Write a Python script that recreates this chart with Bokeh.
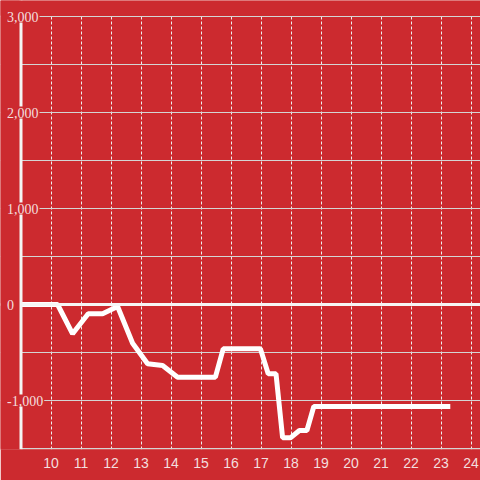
from bokeh.plotting import figure
from bokeh.models import Range1d, Span, LabelSet, ColumnDataSource, FixedTicker, BoxAnnotation
from bokeh.embed import file_html
from bokeh.resources import INLINE

# ---- data ----
hours = [9, 10.22, 10.72, 11.24, 11.72, 12.22, 12.72, 13.22, 13.72, 14.22,
         15.48, 15.74, 16.98, 17.24, 17.5, 17.72, 17.98, 18.28, 18.53, 18.76, 23.31]
values = [0, 0, -305, -97, -97, -21, -403, -618, -635, -757,
          -757, -462, -462, -722, -722, -1389, -1389, -1312, -1312, -1062, -1062]
x_ticks = list(range(10, 25))
y_grid_ticks = [-1500, -1000, -500, 0, 500, 1000, 1500, 2000, 2500, 3000]
y_label_values = [3000, 2000, 1000, 0, -1000]
y_label_texts = ["3,000", "2,000", "1,000", "0", "-1,000"]
x_axis_start = 9
y_max = 3000
y_min = -1500

BG = "#CC2A2F"
TXT = "#F3DEDE"
FONT = "Liberation Sans"

PX = 30.0          # pixels per hour
PY = 0.096         # pixels per unit
W, H = 480, 480
bottom = 31
frame_h = H - bottom
axis_px = 20.5     # screen x of the y axis
top_px = 16        # screen y of the top gridline
x0 = x_axis_start - axis_px / PX
y_top = y_max + top_px / PY
y_bot = y_top - frame_h / PY

p = figure(width=W, height=H, output_backend="svg", toolbar_location=None,
           x_range=Range1d(x0, x0 + W / PX),
           y_range=Range1d(y_bot, y_top),
           min_border_left=0, min_border_top=0,
           min_border_bottom=bottom, min_border_right=0)
p.background_fill_color = BG
p.border_fill_color = BG
p.outline_line_color = None

p.yaxis.visible = False

p.xaxis.ticker = FixedTicker(ticks=x_ticks)
p.xaxis.axis_line_color = None
p.xaxis.major_tick_line_color = None
p.xaxis.minor_tick_line_color = None
p.xaxis.major_label_text_color = TXT
p.xaxis.major_label_text_font = FONT
p.xaxis.major_label_text_font_size = "14px"
p.xaxis.major_label_standoff = 2

p.ygrid.ticker = FixedTicker(ticks=y_grid_ticks)
p.ygrid.grid_line_color = "#D4D4D4"
p.ygrid.grid_line_width = 1
p.xgrid.ticker = FixedTicker(ticks=x_ticks)
p.xgrid.grid_line_color = "#EEEEEE"
p.xgrid.grid_line_dash = "3 2"
p.xgrid.grid_line_width = 1

p.add_layout(Span(location=0, dimension="width", line_color="#F6F6F6", line_width=3))
p.line(hours, values, line_color="#FFFFFF", line_width=5)
# mask left of the axis
p.add_layout(BoxAnnotation(right=x_axis_start, fill_color=BG, fill_alpha=1, line_color=None))
p.add_layout(Span(location=x_axis_start, dimension="height", line_color="#F4F4F4", line_width=3))
# mask above the top gridline and below the bottom gridline
p.add_layout(BoxAnnotation(bottom=y_max + 1 / PY, fill_color=BG, fill_alpha=1, line_color=None))
p.add_layout(BoxAnnotation(top=y_min - 0.6 / PY, fill_color=BG, fill_alpha=1, line_color=None))

src = ColumnDataSource(dict(x=[x_axis_start] * len(y_label_values), y=y_label_values, t=y_label_texts))
labels = LabelSet(x="x", y="y", text="t", source=src, x_offset=-14,
                  text_align="left", text_baseline="middle",
                  text_color=TXT, text_font=FONT, text_font_size="14px",
                  background_fill_color=BG,
                  border_line_color=BG, border_line_width=2)
p.add_layout(labels)

open("out.html", "w").write(file_html(p, INLINE))
